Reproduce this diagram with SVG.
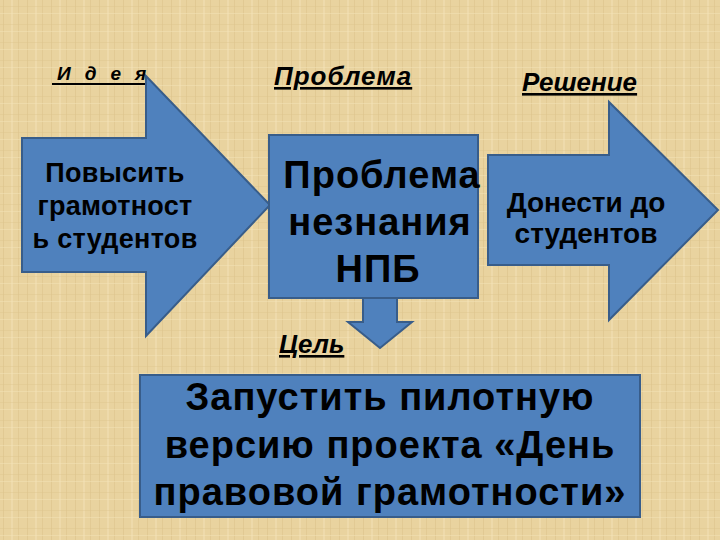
<svg xmlns="http://www.w3.org/2000/svg" width="720" height="540" viewBox="0 0 720 540">
<defs>
<pattern id="tex" width="24" height="18" patternUnits="userSpaceOnUse">
<rect width="24" height="18" fill="#E9D39F"/>
<rect x="3" y="0" width="1" height="18" fill="#D9C088" opacity="0.5"/>
<rect x="11" y="0" width="2" height="18" fill="#F2E0B2" opacity="0.6"/>
<rect x="18" y="0" width="1" height="18" fill="#D6BC84" opacity="0.4"/>
<rect x="0" y="6" width="24" height="1" fill="#DCC48D" opacity="0.4"/>
<rect x="0" y="13" width="24" height="1" fill="#F3E3B8" opacity="0.5"/>
</pattern>
<style>
.shape{fill:#4F81BD;stroke:#385D8A;stroke-width:2}
.t{font-family:"Liberation Sans",Arial,sans-serif;font-weight:bold;fill:#000;text-anchor:middle}
.lbl{font-family:"Liberation Sans",Arial,sans-serif;font-weight:bold;font-style:italic;fill:#000;text-decoration:underline}
</style>
</defs>
<rect width="720" height="540" fill="url(#tex)"/>
<g id="labels">
<text class="lbl" x="57" y="80" font-size="19" letter-spacing="14" style="text-decoration:none">Идея</text>
<line x1="52" y1="84" x2="145" y2="84" stroke="#000" stroke-width="2"/>
<text class="lbl" x="274" y="85" font-size="26" letter-spacing="1">Проблема</text>
<text class="lbl" x="522" y="91" font-size="26">Решение</text>
<text class="lbl" x="279" y="353" font-size="26">Цель</text>
</g>
<g id="node-idea">
<polygon class="shape" points="22,138 146,138 146,76 270,205 146,336 146,272 22,272"/>
<text class="t" font-size="27" letter-spacing="0.3"><tspan x="115" y="182">Повысить</tspan><tspan x="115" y="215">грамотност</tspan><tspan x="115" y="248">ь студентов</tspan></text>
</g>
<g id="node-problem">
<rect class="shape" x="269" y="135" width="209" height="163"/>
<text class="t" font-size="38" letter-spacing="1"><tspan x="382" y="188">Проблема</tspan><tspan x="380" y="235">незнания</tspan><tspan x="378" y="282">НПБ</tspan></text>
</g>
<g id="connectors">
<polygon class="shape" points="363,298 397,298 397,322 412,322 380,348 348,322 363,322"/>
</g>
<g id="node-solution">
<polygon class="shape" points="488,155 609,155 609,102 718,210 609,320 609,265 488,265"/>
<text class="t" font-size="28"><tspan x="586" y="212">Донести до</tspan><tspan x="586" y="243">студентов</tspan></text>
</g>
<g id="node-goal">
<rect class="shape" x="140" y="375" width="500" height="142"/>
<text class="t" font-size="38" letter-spacing="1"><tspan x="390" y="410">Запустить пилотную</tspan><tspan x="390" y="458">версию проекта «День</tspan><tspan x="390" y="505">правовой грамотности»</tspan></text>
</g>
</svg>
